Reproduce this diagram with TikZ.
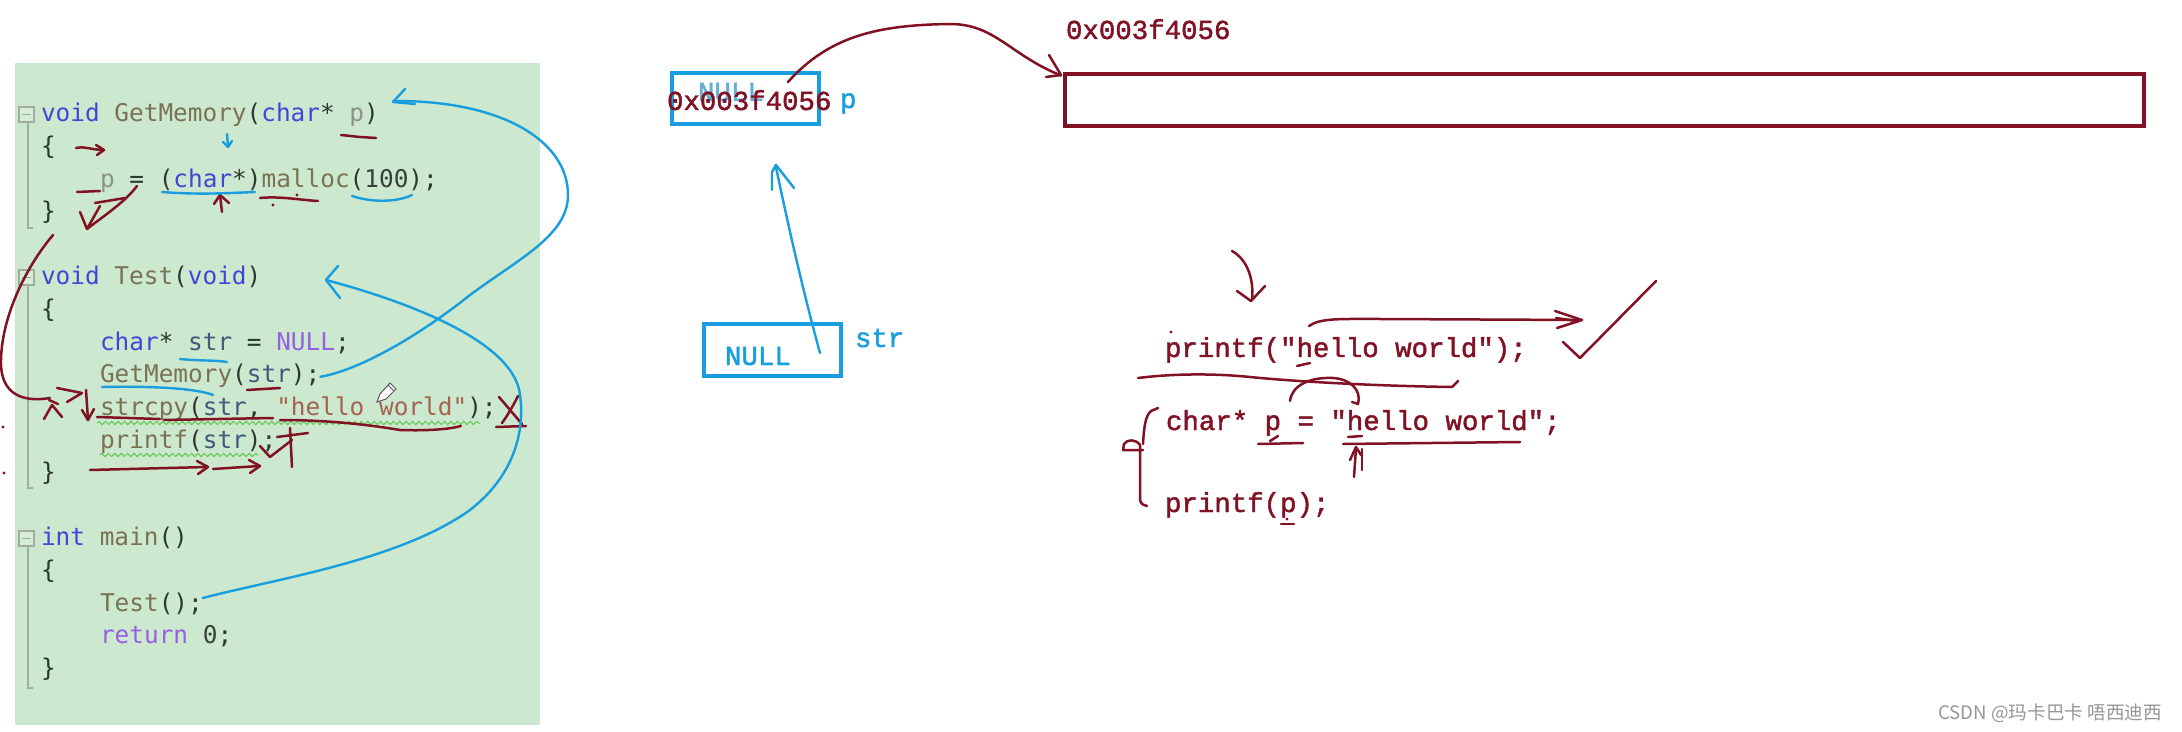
\documentclass[tikz,border=0pt]{standalone}
\usepackage{fontspec}
\usetikzlibrary{calc,decorations.pathmorphing}
\newfontfamily\codefont{DejaVu Sans Mono}
\newfontfamily\sunfont[FakeBold=1.6]{Liberation Mono}
\newfontfamily\cjkfont{Noto Sans CJK SC}
\definecolor{panel}{RGB}{204,232,206}
\definecolor{kwc}{RGB}{68,68,214}
\definecolor{fnc}{RGB}{122,114,84}
\definecolor{prmc}{RGB}{138,144,138}
\definecolor{vrc}{RGB}{68,88,124}
\definecolor{mcc}{RGB}{150,96,226}
\definecolor{sxc}{RGB}{164,98,80}
\definecolor{nmc}{RGB}{56,64,58}
\definecolor{punc}{RGB}{44,56,46}
\definecolor{guidec}{RGB}{160,172,160}
\definecolor{squigc}{RGB}{100,196,84}
\definecolor{ink}{RGB}{128,18,36}
\definecolor{pen}{RGB}{24,158,222}
\definecolor{fadepen}{RGB}{100,175,215}
\definecolor{wmark}{RGB}{150,150,150}
\newcommand\cKw[1]{\textcolor{kwc}{#1}}
\newcommand\cFn[1]{\textcolor{fnc}{#1}}
\newcommand\cPrm[1]{\textcolor{prmc}{#1}}
\newcommand\cVr[1]{\textcolor{vrc}{#1}}
\newcommand\cMc[1]{\textcolor{mcc}{#1}}
\newcommand\cSx[1]{\textcolor{sxc}{#1}}
\newcommand\cNm[1]{\textcolor{nmc}{#1}}
\tikzset{
  codeline/.style={anchor=base west, inner sep=0pt, outer sep=0pt, text=punc, font=\codefont\fontsize{12.2}{14}\selectfont},
  sunline/.style={anchor=base west, inner sep=0pt, outer sep=0pt, text=ink, font=\sunfont\fontsize{13.7}{16}\selectfont},
  penlabel/.style={anchor=base west, inner sep=0pt, outer sep=0pt, text=pen, font=\sunfont\fontsize{13.7}{16}\selectfont},
  inkstroke/.style={draw=ink, line width=1.25pt, line cap=round, line join=round},
  penstroke/.style={draw=pen, line width=1.2pt, line cap=round, line join=round},
  guideline/.style={draw=guidec, line width=0.6pt},
  squiggle/.style={draw=squigc, line width=0.5pt, decorate, decoration={snake, amplitude=0.8pt, segment length=3.2pt}},
  cell/.style={line width=1.6pt, inner sep=0pt, outer sep=0pt},
}
\begin{document}
\begin{tikzpicture}[x=0.5pt,y=-0.5pt]
\fill[white] (0,0) rectangle (2182,732);
\useasboundingbox (0,0) rectangle (2182,732);
% code panel
\fill[panel] (15,63) rectangle (540,725);
% fold boxes and guides
\foreach \yy in {107,270,531} {
  \draw[guideline, fill=panel!80!white] (19,\yy) rectangle (34,\yy+15);
  \draw[guideline] (22,\yy+7.5) -- (31,\yy+7.5);
}
\draw[guideline] (28,122) -- (28,228) -- (33,228);
\draw[guideline] (28,285) -- (28,488) -- (33,488);
\draw[guideline] (28,546) -- (28,688) -- (33,688);
% squiggles
\draw[squiggle] (97,423) -- (480,423);
\draw[squiggle] (100,455) -- (258,455);
% code
\node[codeline] (l0) at (41,122) {\cKw{void} \cFn{GetMemory}(\cKw{char}* \cPrm{p})};
\node[codeline] (l1) at (41,154.6) {\{};
\node[codeline] (l2) at (100,187.2) {\cPrm{p} = (\cKw{char}*)\cFn{malloc}(\cNm{100});};
\node[codeline] (l3) at (41,219.8) {\}};
\node[codeline] (l5) at (41,285) {\cKw{void} \cFn{Test}(\cKw{void})};
\node[codeline] (l6) at (41,317.6) {\{};
\node[codeline] (l7) at (100,350.2) {\cKw{char}* \cVr{str} = \cMc{NULL};};
\node[codeline] (l8) at (100,382.8) {\cFn{GetMemory}(\cVr{str});};
\node[codeline] (l9) at (100,415.4) {\cFn{strcpy}(\cVr{str}, \cSx{"hello world"});};
\node[codeline] (l10) at (100,448) {\cFn{printf}(\cVr{str});};
\node[codeline] (l11) at (41,480.6) {\}};
\node[codeline] (l13) at (41,545.8) {\cKw{int} \cFn{main}()};
\node[codeline] (l14) at (41,578.4) {\{};
\node[codeline] (l15) at (100,611) {\cFn{Test}();};
\node[codeline] (l16) at (100,643.6) {\cMc{return} \cNm{0};};
\node[codeline] (l17) at (41,676.2) {\}};
% pencil cursor
\draw[gray!70!black, line width=0.5pt, fill=white] (377,402) -- (380,394) -- (390,383) -- (396,389) -- (386,399) -- cycle;
\draw[gray!70!black, line width=0.5pt] (388,385) -- (394,391);
% red marks in code
\draw[inkstroke] (76,148) .. controls (85,146) and (92,150) .. (104,150);
\draw[inkstroke] (96,145) -- (104,150) -- (97,155);
\draw[inkstroke] (341,135) -- (360,137) -- (376,138);
\draw[inkstroke] (77,192) -- (100,191);
\draw[inkstroke] (222,212) -- (220,195);
\draw[inkstroke] (214,204) -- (220,195) -- (229,203);
\draw[inkstroke] (260,198) .. controls (280,196) and (300,200) .. (318,201);
\fill[ink] (273,205) circle[radius=0.8pt];
\fill[ink] (297,195) circle[radius=0.8pt];
\draw[inkstroke] (80,212) -- (87,229) -- (100,206);
\draw[inkstroke] (137,186) .. controls (125,202) and (105,215) .. (87,229);
\draw[inkstroke] (95,203) -- (125,198);
\draw[inkstroke] (53,235) .. controls (25,268) and (0,320) .. (1,365) .. controls (2,392) and (20,403) .. (50,398);
\draw[inkstroke] (57,388) -- (82,393) -- (67,402);
\draw[inkstroke] (44,419) -- (52,405) -- (62,417);
\draw[inkstroke] (49,400) -- (58,404);
\draw[inkstroke] (86,390) -- (88,420);
\draw[inkstroke] (82,410) -- (88,420) -- (94,409);
\draw[inkstroke] (499,397) -- (522,424);
\draw[inkstroke] (518,396) .. controls (512,408) and (507,416) .. (502,423);
\draw[inkstroke] (496,427) -- (526,426);
\draw[inkstroke] (97,417) -- (160,419);
\draw[inkstroke] (164,420) -- (273,418);
\draw[inkstroke] (280,420) .. controls (330,420) and (370,425) .. (400,430) .. controls (430,431) and (450,429) .. (461,426);
\draw[inkstroke] (247,390) -- (280,388);
\draw[inkstroke] (90,470) -- (207,467);
\draw[inkstroke] (197,461) -- (208,467) -- (198,474);
\draw[inkstroke] (213,469) -- (259,466);
\draw[inkstroke] (249,460) -- (260,466) -- (250,473);
\draw[inkstroke] (260,446) -- (270,457) -- (292,440);
\draw[inkstroke] (290,428) -- (292,467);
\draw[inkstroke] (277,437) -- (308,433);
\fill[ink] (3,427) circle[radius=0.8pt];
\fill[ink] (4,473) circle[radius=0.8pt];
% blue marks in code
\draw[penstroke] (227,134) -- (228,147);
\draw[penstroke] (223,142) -- (228,147) -- (232,141);
\draw[penstroke] (162,192) .. controls (200,195) and (230,193) .. (255,192);
\draw[penstroke] (352,196) .. controls (370,202) and (395,203) .. (412,195);
\draw[penstroke] (180,359) .. controls (200,361) and (215,360) .. (227,362);
\draw[penstroke] (102,387) .. controls (150,386) and (195,388) .. (213,395);
% blue call curves
\draw[penstroke] (l8.base east) ++(0,-6) .. controls (360,370) and (420,335) .. (470,295) .. controls (520,258) and (568,235) .. (568,195) .. controls (568,140) and (500,100) .. (393,101);
\draw[penstroke] (405,89) -- (393,102) -- (415,104);
\draw[penstroke] (l15.base east) ++(0,-13) .. controls (280,578) and (400,560) .. (470,510) .. controls (515,475) and (525,430) .. (520,395) .. controls (515,345) and (420,305) .. (326,280);
\draw[penstroke] (338,266) -- (326,280) -- (340,298);
% memory boxes
\node[cell, draw=pen, minimum width=73.5pt, minimum height=25.5pt] (box1) at (745.5,98.5) {};
\node[cell, draw=pen, minimum width=68.5pt, minimum height=26pt] (box2) at (772.5,350) {};
\node[cell, draw=ink, line width=2pt, minimum width=539.5pt, minimum height=26pt] (heap) at (1604.5,100.5) {};
\node[penlabel, text=fadepen] (nullold) at (698,101) {NULL};
\node[sunline] (addr1) at (667,110) {0x003f4056};
\node[penlabel] (plabel) at (840,108) {p};
\node[penlabel] (null2) at (725,365) {NULL};
\node[penlabel] (strlabel) at (855,347) {str};
\node[sunline] (addr2) at (1066,39) {0x003f4056};
% pointer arrows
\draw[inkstroke] ($(box1.north east)+(-31,9)$) .. controls (830,35) and (880,25) .. (950,24) .. controls (995,24) and (1010,55) .. ($(heap.north west)+(-4,1)$);
\draw[inkstroke] (1049,55) -- (1061,75) -- (1046,77);
\draw[penstroke] ($(box2.south east)+(-21,-23)$) .. controls (800,280) and (785,210) .. ($(box1.south)+(30,41)$);
\draw[penstroke] (772,190) -- (772,172) -- (776,165) -- (794,188);
% right code
\node[sunline] (rc1) at (1165,357) {printf("hello world");};
\node[sunline] (rc2) at (1166,430) {char* p = "hello world";};
\node[sunline] (rc3) at (1165,512) {printf(p);};
% right marks
\draw[inkstroke] (1232,251) .. controls (1248,260) and (1254,280) .. (1252,300);
\draw[inkstroke] (1237,291) -- (1251,301) -- (1265,286);
\draw[inkstroke] (1309,326) .. controls (1320,318) and (1340,319) .. (1380,319) -- (1580,320);
\draw[inkstroke] (1555,311) -- (1582,320) -- (1557,328);
\draw[inkstroke] (1556,318) -- (1576,321);
\draw[inkstroke] (1563,342) -- (1580,358) -- (1656,281);
\draw[inkstroke] (1297,366) -- (1310,363);
\fill[ink] (1171,332) circle[radius=0.8pt];
\draw[inkstroke] (1138,378) .. controls (1170,374) and (1210,373) .. (1250,377) .. controls (1300,382) and (1380,386) .. (1452,387) -- (1458,381);
\draw[inkstroke] (1290,401) .. controls (1292,385) and (1310,377) .. (1333,378) .. controls (1350,379) and (1362,390) .. (1358,404) -- (1352,402);
\draw[inkstroke] (1258,444) -- (1303,443);
\draw[inkstroke] (1270,441) -- (1278,436);
\draw[inkstroke] (1343,444) -- (1520,442);
\draw[inkstroke] (1348,437) -- (1362,436);
\draw[inkstroke] (1354,477) -- (1356,448);
\draw[inkstroke] (1362,470) -- (1362,449);
\draw[inkstroke] (1350,460) -- (1356,447) -- (1361,455);
\draw[inkstroke] (1158,408) -- (1151,411) .. controls (1146,415) and (1144,425) .. (1143,444);
\draw[inkstroke] (1143,450) -- (1123,450) -- (1124,444) .. controls (1127,439) and (1136,439) .. (1140,445) -- (1140,500) .. controls (1141,504) and (1144,506) .. (1147,506);
\draw[inkstroke] (1281,524) -- (1294,524);
\fill[ink] (1287,519) circle[radius=0.8pt];
% watermark
\node[anchor=west, inner sep=0pt, text=wmark, font=\cjkfont\fontsize{9.3}{12}\selectfont] (wm) at (1938,713) {CSDN @玛卡巴卡 唔西迪西};
\end{tikzpicture}
\end{document}
